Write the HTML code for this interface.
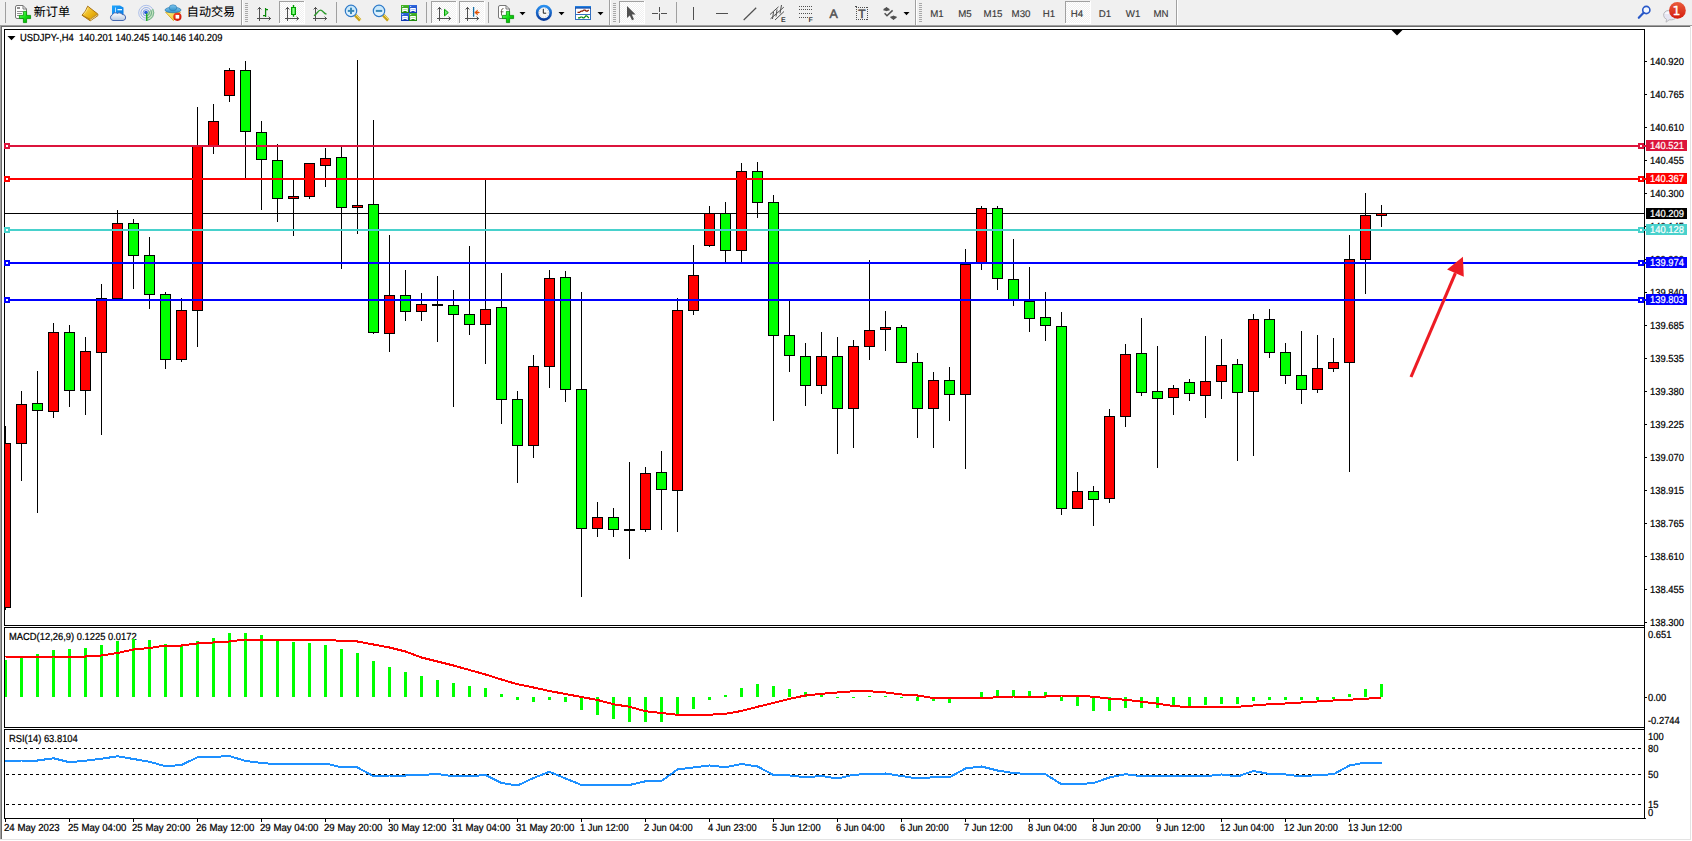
<!DOCTYPE html>
<html><head><meta charset="utf-8"><title>USDJPY-,H4</title>
<style>
html,body{margin:0;padding:0;background:#fff;overflow:hidden}
svg{display:block;position:absolute;left:0;top:0}
svg text{font-family:"Liberation Sans", sans-serif;}
</style></head><body>
<svg width="1692" height="841" viewBox="0 0 1692 841" text-rendering="geometricPrecision">
<g shape-rendering="crispEdges">
<rect x="0" y="0" width="1692" height="25" fill="#f0f0f0"/>
<rect x="0" y="25" width="1692" height="1" fill="#a0a0a0"/>
<rect x="0" y="26" width="1690" height="1" fill="#696969"/>
<rect x="0" y="26" width="1" height="813" fill="#a0a0a0"/>
<rect x="1" y="26" width="1" height="813" fill="#696969"/>
<rect x="1690" y="26" width="1" height="814" fill="#e3e3e3"/>
<rect x="0" y="839" width="1691" height="1" fill="#e3e3e3"/>
<rect x="4" y="29" width="1641" height="1" fill="#000"/>
<rect x="4" y="625" width="1641" height="1" fill="#000"/>
<rect x="4" y="29" width="1" height="597" fill="#000"/>
<rect x="4" y="627" width="1641" height="1" fill="#000"/>
<rect x="4" y="727" width="1641" height="1" fill="#000"/>
<rect x="4" y="627" width="1" height="101" fill="#000"/>
<rect x="4" y="729" width="1641" height="1" fill="#000"/>
<rect x="4" y="818" width="1641" height="1" fill="#000"/>
<rect x="4" y="729" width="1" height="90" fill="#000"/>
<rect x="1644" y="29" width="1" height="790" fill="#000"/>
<rect x="5" y="213" width="1639" height="1" fill="#000"/>
<g id="candles">
<rect x="5" y="426" width="1" height="184" fill="#000"/>
<rect x="5" y="443" width="6" height="165" fill="#000"/>
<rect x="5" y="444" width="5" height="163" fill="#ff0000"/>
<rect x="21" y="391" width="1" height="90" fill="#000"/>
<rect x="16" y="404" width="11" height="40" fill="#000"/>
<rect x="17" y="405" width="9" height="38" fill="#ff0000"/>
<rect x="37" y="371" width="1" height="142" fill="#000"/>
<rect x="32" y="403" width="11" height="8" fill="#000"/>
<rect x="33" y="404" width="9" height="6" fill="#00ff00"/>
<rect x="53" y="323" width="1" height="95" fill="#000"/>
<rect x="48" y="332" width="11" height="80" fill="#000"/>
<rect x="49" y="333" width="9" height="78" fill="#ff0000"/>
<rect x="69" y="325" width="1" height="82" fill="#000"/>
<rect x="64" y="332" width="11" height="59" fill="#000"/>
<rect x="65" y="333" width="9" height="57" fill="#00ff00"/>
<rect x="85" y="337" width="1" height="78" fill="#000"/>
<rect x="80" y="351" width="11" height="40" fill="#000"/>
<rect x="81" y="352" width="9" height="38" fill="#ff0000"/>
<rect x="101" y="284" width="1" height="151" fill="#000"/>
<rect x="96" y="298" width="11" height="55" fill="#000"/>
<rect x="97" y="299" width="9" height="53" fill="#ff0000"/>
<rect x="117" y="210" width="1" height="89" fill="#000"/>
<rect x="112" y="223" width="11" height="76" fill="#000"/>
<rect x="113" y="224" width="9" height="74" fill="#ff0000"/>
<rect x="133" y="219" width="1" height="70" fill="#000"/>
<rect x="128" y="223" width="11" height="33" fill="#000"/>
<rect x="129" y="224" width="9" height="31" fill="#00ff00"/>
<rect x="149" y="237" width="1" height="72" fill="#000"/>
<rect x="144" y="255" width="11" height="40" fill="#000"/>
<rect x="145" y="256" width="9" height="38" fill="#00ff00"/>
<rect x="165" y="292" width="1" height="77" fill="#000"/>
<rect x="160" y="294" width="11" height="66" fill="#000"/>
<rect x="161" y="295" width="9" height="64" fill="#00ff00"/>
<rect x="181" y="298" width="1" height="64" fill="#000"/>
<rect x="176" y="310" width="11" height="50" fill="#000"/>
<rect x="177" y="311" width="9" height="48" fill="#ff0000"/>
<rect x="197" y="107" width="1" height="240" fill="#000"/>
<rect x="192" y="145" width="11" height="166" fill="#000"/>
<rect x="193" y="146" width="9" height="164" fill="#ff0000"/>
<rect x="213" y="104" width="1" height="50" fill="#000"/>
<rect x="208" y="121" width="11" height="25" fill="#000"/>
<rect x="209" y="122" width="9" height="23" fill="#ff0000"/>
<rect x="229" y="68" width="1" height="34" fill="#000"/>
<rect x="224" y="70" width="11" height="26" fill="#000"/>
<rect x="225" y="71" width="9" height="24" fill="#ff0000"/>
<rect x="245" y="61" width="1" height="117" fill="#000"/>
<rect x="240" y="70" width="11" height="62" fill="#000"/>
<rect x="241" y="71" width="9" height="60" fill="#00ff00"/>
<rect x="261" y="121" width="1" height="89" fill="#000"/>
<rect x="256" y="132" width="11" height="28" fill="#000"/>
<rect x="257" y="133" width="9" height="26" fill="#00ff00"/>
<rect x="277" y="144" width="1" height="78" fill="#000"/>
<rect x="272" y="160" width="11" height="39" fill="#000"/>
<rect x="273" y="161" width="9" height="37" fill="#00ff00"/>
<rect x="293" y="179" width="1" height="57" fill="#000"/>
<rect x="288" y="196" width="11" height="3" fill="#000"/>
<rect x="289" y="197" width="9" height="1" fill="#ff0000"/>
<rect x="309" y="163" width="1" height="36" fill="#000"/>
<rect x="304" y="163" width="11" height="34" fill="#000"/>
<rect x="305" y="164" width="9" height="32" fill="#ff0000"/>
<rect x="325" y="148" width="1" height="39" fill="#000"/>
<rect x="320" y="158" width="11" height="8" fill="#000"/>
<rect x="321" y="159" width="9" height="6" fill="#ff0000"/>
<rect x="341" y="147" width="1" height="122" fill="#000"/>
<rect x="336" y="157" width="11" height="51" fill="#000"/>
<rect x="337" y="158" width="9" height="49" fill="#00ff00"/>
<rect x="357" y="60" width="1" height="174" fill="#000"/>
<rect x="352" y="205" width="11" height="3" fill="#000"/>
<rect x="353" y="206" width="9" height="1" fill="#ff0000"/>
<rect x="373" y="120" width="1" height="214" fill="#000"/>
<rect x="368" y="204" width="11" height="129" fill="#000"/>
<rect x="369" y="205" width="9" height="127" fill="#00ff00"/>
<rect x="389" y="235" width="1" height="117" fill="#000"/>
<rect x="384" y="295" width="11" height="39" fill="#000"/>
<rect x="385" y="296" width="9" height="37" fill="#ff0000"/>
<rect x="405" y="270" width="1" height="51" fill="#000"/>
<rect x="400" y="295" width="11" height="17" fill="#000"/>
<rect x="401" y="296" width="9" height="15" fill="#00ff00"/>
<rect x="421" y="293" width="1" height="28" fill="#000"/>
<rect x="416" y="304" width="11" height="8" fill="#000"/>
<rect x="417" y="305" width="9" height="6" fill="#ff0000"/>
<rect x="437" y="276" width="1" height="66" fill="#000"/>
<rect x="432" y="304" width="11" height="2" fill="#000"/>
<rect x="453" y="290" width="1" height="117" fill="#000"/>
<rect x="448" y="305" width="11" height="10" fill="#000"/>
<rect x="449" y="306" width="9" height="8" fill="#00ff00"/>
<rect x="469" y="246" width="1" height="89" fill="#000"/>
<rect x="464" y="314" width="11" height="11" fill="#000"/>
<rect x="465" y="315" width="9" height="9" fill="#00ff00"/>
<rect x="485" y="179" width="1" height="185" fill="#000"/>
<rect x="480" y="309" width="11" height="16" fill="#000"/>
<rect x="481" y="310" width="9" height="14" fill="#ff0000"/>
<rect x="501" y="273" width="1" height="151" fill="#000"/>
<rect x="496" y="307" width="11" height="93" fill="#000"/>
<rect x="497" y="308" width="9" height="91" fill="#00ff00"/>
<rect x="517" y="391" width="1" height="92" fill="#000"/>
<rect x="512" y="399" width="11" height="47" fill="#000"/>
<rect x="513" y="400" width="9" height="45" fill="#00ff00"/>
<rect x="533" y="355" width="1" height="103" fill="#000"/>
<rect x="528" y="366" width="11" height="80" fill="#000"/>
<rect x="529" y="367" width="9" height="78" fill="#ff0000"/>
<rect x="549" y="270" width="1" height="118" fill="#000"/>
<rect x="544" y="278" width="11" height="89" fill="#000"/>
<rect x="545" y="279" width="9" height="87" fill="#ff0000"/>
<rect x="565" y="271" width="1" height="131" fill="#000"/>
<rect x="560" y="277" width="11" height="113" fill="#000"/>
<rect x="561" y="278" width="9" height="111" fill="#00ff00"/>
<rect x="581" y="292" width="1" height="305" fill="#000"/>
<rect x="576" y="389" width="11" height="140" fill="#000"/>
<rect x="577" y="390" width="9" height="138" fill="#00ff00"/>
<rect x="597" y="502" width="1" height="35" fill="#000"/>
<rect x="592" y="517" width="11" height="12" fill="#000"/>
<rect x="593" y="518" width="9" height="10" fill="#ff0000"/>
<rect x="613" y="508" width="1" height="29" fill="#000"/>
<rect x="608" y="517" width="11" height="13" fill="#000"/>
<rect x="609" y="518" width="9" height="11" fill="#00ff00"/>
<rect x="629" y="462" width="1" height="97" fill="#000"/>
<rect x="624" y="529" width="11" height="2" fill="#000"/>
<rect x="645" y="467" width="1" height="65" fill="#000"/>
<rect x="640" y="473" width="11" height="57" fill="#000"/>
<rect x="641" y="474" width="9" height="55" fill="#ff0000"/>
<rect x="661" y="451" width="1" height="79" fill="#000"/>
<rect x="656" y="472" width="11" height="18" fill="#000"/>
<rect x="657" y="473" width="9" height="16" fill="#00ff00"/>
<rect x="677" y="298" width="1" height="234" fill="#000"/>
<rect x="672" y="310" width="11" height="181" fill="#000"/>
<rect x="673" y="311" width="9" height="179" fill="#ff0000"/>
<rect x="693" y="245" width="1" height="70" fill="#000"/>
<rect x="688" y="275" width="11" height="36" fill="#000"/>
<rect x="689" y="276" width="9" height="34" fill="#ff0000"/>
<rect x="709" y="206" width="1" height="41" fill="#000"/>
<rect x="704" y="213" width="11" height="33" fill="#000"/>
<rect x="705" y="214" width="9" height="31" fill="#ff0000"/>
<rect x="725" y="202" width="1" height="60" fill="#000"/>
<rect x="720" y="213" width="11" height="38" fill="#000"/>
<rect x="721" y="214" width="9" height="36" fill="#00ff00"/>
<rect x="741" y="163" width="1" height="99" fill="#000"/>
<rect x="736" y="171" width="11" height="80" fill="#000"/>
<rect x="737" y="172" width="9" height="78" fill="#ff0000"/>
<rect x="757" y="162" width="1" height="56" fill="#000"/>
<rect x="752" y="171" width="11" height="32" fill="#000"/>
<rect x="753" y="172" width="9" height="30" fill="#00ff00"/>
<rect x="773" y="195" width="1" height="226" fill="#000"/>
<rect x="768" y="202" width="11" height="134" fill="#000"/>
<rect x="769" y="203" width="9" height="132" fill="#00ff00"/>
<rect x="789" y="301" width="1" height="71" fill="#000"/>
<rect x="784" y="335" width="11" height="21" fill="#000"/>
<rect x="785" y="336" width="9" height="19" fill="#00ff00"/>
<rect x="805" y="343" width="1" height="63" fill="#000"/>
<rect x="800" y="356" width="11" height="30" fill="#000"/>
<rect x="801" y="357" width="9" height="28" fill="#00ff00"/>
<rect x="821" y="332" width="1" height="62" fill="#000"/>
<rect x="816" y="356" width="11" height="30" fill="#000"/>
<rect x="817" y="357" width="9" height="28" fill="#ff0000"/>
<rect x="837" y="337" width="1" height="117" fill="#000"/>
<rect x="832" y="356" width="11" height="53" fill="#000"/>
<rect x="833" y="357" width="9" height="51" fill="#00ff00"/>
<rect x="853" y="340" width="1" height="108" fill="#000"/>
<rect x="848" y="346" width="11" height="63" fill="#000"/>
<rect x="849" y="347" width="9" height="61" fill="#ff0000"/>
<rect x="869" y="260" width="1" height="100" fill="#000"/>
<rect x="864" y="330" width="11" height="17" fill="#000"/>
<rect x="865" y="331" width="9" height="15" fill="#ff0000"/>
<rect x="885" y="311" width="1" height="40" fill="#000"/>
<rect x="880" y="327" width="11" height="3" fill="#000"/>
<rect x="881" y="328" width="9" height="1" fill="#ff0000"/>
<rect x="901" y="325" width="1" height="38" fill="#000"/>
<rect x="896" y="327" width="11" height="36" fill="#000"/>
<rect x="897" y="328" width="9" height="34" fill="#00ff00"/>
<rect x="917" y="353" width="1" height="85" fill="#000"/>
<rect x="912" y="362" width="11" height="47" fill="#000"/>
<rect x="913" y="363" width="9" height="45" fill="#00ff00"/>
<rect x="933" y="372" width="1" height="76" fill="#000"/>
<rect x="928" y="380" width="11" height="29" fill="#000"/>
<rect x="929" y="381" width="9" height="27" fill="#ff0000"/>
<rect x="949" y="367" width="1" height="54" fill="#000"/>
<rect x="944" y="380" width="11" height="15" fill="#000"/>
<rect x="945" y="381" width="9" height="13" fill="#00ff00"/>
<rect x="965" y="249" width="1" height="220" fill="#000"/>
<rect x="960" y="264" width="11" height="131" fill="#000"/>
<rect x="961" y="265" width="9" height="129" fill="#ff0000"/>
<rect x="981" y="206" width="1" height="64" fill="#000"/>
<rect x="976" y="208" width="11" height="55" fill="#000"/>
<rect x="977" y="209" width="9" height="53" fill="#ff0000"/>
<rect x="997" y="206" width="1" height="84" fill="#000"/>
<rect x="992" y="208" width="11" height="71" fill="#000"/>
<rect x="993" y="209" width="9" height="69" fill="#00ff00"/>
<rect x="1013" y="239" width="1" height="67" fill="#000"/>
<rect x="1008" y="279" width="11" height="21" fill="#000"/>
<rect x="1009" y="280" width="9" height="19" fill="#00ff00"/>
<rect x="1029" y="267" width="1" height="65" fill="#000"/>
<rect x="1024" y="301" width="11" height="18" fill="#000"/>
<rect x="1025" y="302" width="9" height="16" fill="#00ff00"/>
<rect x="1045" y="292" width="1" height="49" fill="#000"/>
<rect x="1040" y="317" width="11" height="9" fill="#000"/>
<rect x="1041" y="318" width="9" height="7" fill="#00ff00"/>
<rect x="1061" y="312" width="1" height="203" fill="#000"/>
<rect x="1056" y="326" width="11" height="183" fill="#000"/>
<rect x="1057" y="327" width="9" height="181" fill="#00ff00"/>
<rect x="1077" y="472" width="1" height="37" fill="#000"/>
<rect x="1072" y="491" width="11" height="18" fill="#000"/>
<rect x="1073" y="492" width="9" height="16" fill="#ff0000"/>
<rect x="1093" y="486" width="1" height="40" fill="#000"/>
<rect x="1088" y="491" width="11" height="9" fill="#000"/>
<rect x="1089" y="492" width="9" height="7" fill="#00ff00"/>
<rect x="1109" y="409" width="1" height="94" fill="#000"/>
<rect x="1104" y="416" width="11" height="83" fill="#000"/>
<rect x="1105" y="417" width="9" height="81" fill="#ff0000"/>
<rect x="1125" y="344" width="1" height="83" fill="#000"/>
<rect x="1120" y="354" width="11" height="63" fill="#000"/>
<rect x="1121" y="355" width="9" height="61" fill="#ff0000"/>
<rect x="1141" y="318" width="1" height="78" fill="#000"/>
<rect x="1136" y="353" width="11" height="40" fill="#000"/>
<rect x="1137" y="354" width="9" height="38" fill="#00ff00"/>
<rect x="1157" y="346" width="1" height="122" fill="#000"/>
<rect x="1152" y="391" width="11" height="8" fill="#000"/>
<rect x="1153" y="392" width="9" height="6" fill="#00ff00"/>
<rect x="1173" y="385" width="1" height="30" fill="#000"/>
<rect x="1168" y="388" width="11" height="10" fill="#000"/>
<rect x="1169" y="389" width="9" height="8" fill="#ff0000"/>
<rect x="1189" y="379" width="1" height="22" fill="#000"/>
<rect x="1184" y="382" width="11" height="12" fill="#000"/>
<rect x="1185" y="383" width="9" height="10" fill="#00ff00"/>
<rect x="1205" y="336" width="1" height="82" fill="#000"/>
<rect x="1200" y="381" width="11" height="15" fill="#000"/>
<rect x="1201" y="382" width="9" height="13" fill="#ff0000"/>
<rect x="1221" y="339" width="1" height="60" fill="#000"/>
<rect x="1216" y="365" width="11" height="17" fill="#000"/>
<rect x="1217" y="366" width="9" height="15" fill="#ff0000"/>
<rect x="1237" y="359" width="1" height="102" fill="#000"/>
<rect x="1232" y="364" width="11" height="29" fill="#000"/>
<rect x="1233" y="365" width="9" height="27" fill="#00ff00"/>
<rect x="1253" y="314" width="1" height="142" fill="#000"/>
<rect x="1248" y="319" width="11" height="73" fill="#000"/>
<rect x="1249" y="320" width="9" height="71" fill="#ff0000"/>
<rect x="1269" y="309" width="1" height="49" fill="#000"/>
<rect x="1264" y="319" width="11" height="34" fill="#000"/>
<rect x="1265" y="320" width="9" height="32" fill="#00ff00"/>
<rect x="1285" y="343" width="1" height="41" fill="#000"/>
<rect x="1280" y="352" width="11" height="24" fill="#000"/>
<rect x="1281" y="353" width="9" height="22" fill="#00ff00"/>
<rect x="1301" y="331" width="1" height="73" fill="#000"/>
<rect x="1296" y="375" width="11" height="15" fill="#000"/>
<rect x="1297" y="376" width="9" height="13" fill="#00ff00"/>
<rect x="1317" y="335" width="1" height="58" fill="#000"/>
<rect x="1312" y="368" width="11" height="22" fill="#000"/>
<rect x="1313" y="369" width="9" height="20" fill="#ff0000"/>
<rect x="1333" y="338" width="1" height="34" fill="#000"/>
<rect x="1328" y="362" width="11" height="7" fill="#000"/>
<rect x="1329" y="363" width="9" height="5" fill="#ff0000"/>
<rect x="1349" y="235" width="1" height="237" fill="#000"/>
<rect x="1344" y="259" width="11" height="104" fill="#000"/>
<rect x="1345" y="260" width="9" height="102" fill="#ff0000"/>
<rect x="1365" y="193" width="1" height="101" fill="#000"/>
<rect x="1360" y="215" width="11" height="45" fill="#000"/>
<rect x="1361" y="216" width="9" height="43" fill="#ff0000"/>
<rect x="1381" y="205" width="1" height="22" fill="#000"/>
<rect x="1376" y="213" width="11" height="3" fill="#000"/>
<rect x="1377" y="214" width="9" height="1" fill="#ff0000"/>
</g>
<rect x="4" y="145" width="1642" height="2" fill="#dc143c"/>
<rect x="4" y="143" width="6" height="6" fill="#dc143c"/>
<rect x="6" y="145" width="2" height="2" fill="#fff"/>
<rect x="1638" y="143" width="6" height="6" fill="#dc143c"/>
<rect x="1640" y="145" width="2" height="2" fill="#fff"/>
<rect x="4" y="178" width="1642" height="2" fill="#ff0000"/>
<rect x="4" y="176" width="6" height="6" fill="#ff0000"/>
<rect x="6" y="178" width="2" height="2" fill="#fff"/>
<rect x="1638" y="176" width="6" height="6" fill="#ff0000"/>
<rect x="1640" y="178" width="2" height="2" fill="#fff"/>
<rect x="4" y="229" width="1642" height="2" fill="#48d1cc"/>
<rect x="4" y="227" width="6" height="6" fill="#48d1cc"/>
<rect x="6" y="229" width="2" height="2" fill="#fff"/>
<rect x="1638" y="227" width="6" height="6" fill="#48d1cc"/>
<rect x="1640" y="229" width="2" height="2" fill="#fff"/>
<rect x="4" y="262" width="1642" height="2" fill="#0000ff"/>
<rect x="4" y="260" width="6" height="6" fill="#0000ff"/>
<rect x="6" y="262" width="2" height="2" fill="#fff"/>
<rect x="1638" y="260" width="6" height="6" fill="#0000ff"/>
<rect x="1640" y="262" width="2" height="2" fill="#fff"/>
<rect x="4" y="299" width="1642" height="2" fill="#0000ff"/>
<rect x="4" y="297" width="6" height="6" fill="#0000ff"/>
<rect x="6" y="299" width="2" height="2" fill="#fff"/>
<rect x="1638" y="297" width="6" height="6" fill="#0000ff"/>
<rect x="1640" y="299" width="2" height="2" fill="#fff"/>
<g shape-rendering="geometricPrecision"><line x1="1411" y1="377" x2="1455.4" y2="273.2" stroke="#ed1c24" stroke-width="3.1"/><polygon points="1462.9,256.7 1447.1,269.5 1463.8,276.7" fill="#ed1c24"/></g>
<polygon points="1391.5,30 1402.5,30 1397,35.5" fill="#000" shape-rendering="geometricPrecision"/>
<rect x="1645" y="61" width="2" height="1" fill="#000"/>
<text transform="translate(1650,65) scale(0.92,1)" fill="#000" stroke="#000" stroke-width="0.22" font-size="10.2" text-anchor="start">140.920</text>
<rect x="1645" y="94" width="2" height="1" fill="#000"/>
<text transform="translate(1650,98) scale(0.92,1)" fill="#000" stroke="#000" stroke-width="0.22" font-size="10.2" text-anchor="start">140.765</text>
<rect x="1645" y="127" width="2" height="1" fill="#000"/>
<text transform="translate(1650,131) scale(0.92,1)" fill="#000" stroke="#000" stroke-width="0.22" font-size="10.2" text-anchor="start">140.610</text>
<rect x="1645" y="160" width="2" height="1" fill="#000"/>
<text transform="translate(1650,164) scale(0.92,1)" fill="#000" stroke="#000" stroke-width="0.22" font-size="10.2" text-anchor="start">140.455</text>
<rect x="1645" y="193" width="2" height="1" fill="#000"/>
<text transform="translate(1650,197) scale(0.92,1)" fill="#000" stroke="#000" stroke-width="0.22" font-size="10.2" text-anchor="start">140.300</text>
<rect x="1645" y="226" width="2" height="1" fill="#000"/>
<text transform="translate(1650,230) scale(0.92,1)" fill="#000" stroke="#000" stroke-width="0.22" font-size="10.2" text-anchor="start">140.145</text>
<rect x="1645" y="259" width="2" height="1" fill="#000"/>
<text transform="translate(1650,263) scale(0.92,1)" fill="#000" stroke="#000" stroke-width="0.22" font-size="10.2" text-anchor="start">139.990</text>
<rect x="1645" y="292" width="2" height="1" fill="#000"/>
<text transform="translate(1650,296) scale(0.92,1)" fill="#000" stroke="#000" stroke-width="0.22" font-size="10.2" text-anchor="start">139.840</text>
<rect x="1645" y="325" width="2" height="1" fill="#000"/>
<text transform="translate(1650,329) scale(0.92,1)" fill="#000" stroke="#000" stroke-width="0.22" font-size="10.2" text-anchor="start">139.685</text>
<rect x="1645" y="358" width="2" height="1" fill="#000"/>
<text transform="translate(1650,362) scale(0.92,1)" fill="#000" stroke="#000" stroke-width="0.22" font-size="10.2" text-anchor="start">139.535</text>
<rect x="1645" y="391" width="2" height="1" fill="#000"/>
<text transform="translate(1650,395) scale(0.92,1)" fill="#000" stroke="#000" stroke-width="0.22" font-size="10.2" text-anchor="start">139.380</text>
<rect x="1645" y="424" width="2" height="1" fill="#000"/>
<text transform="translate(1650,428) scale(0.92,1)" fill="#000" stroke="#000" stroke-width="0.22" font-size="10.2" text-anchor="start">139.225</text>
<rect x="1645" y="457" width="2" height="1" fill="#000"/>
<text transform="translate(1650,461) scale(0.92,1)" fill="#000" stroke="#000" stroke-width="0.22" font-size="10.2" text-anchor="start">139.070</text>
<rect x="1645" y="490" width="2" height="1" fill="#000"/>
<text transform="translate(1650,494) scale(0.92,1)" fill="#000" stroke="#000" stroke-width="0.22" font-size="10.2" text-anchor="start">138.915</text>
<rect x="1645" y="523" width="2" height="1" fill="#000"/>
<text transform="translate(1650,527) scale(0.92,1)" fill="#000" stroke="#000" stroke-width="0.22" font-size="10.2" text-anchor="start">138.765</text>
<rect x="1645" y="556" width="2" height="1" fill="#000"/>
<text transform="translate(1650,560) scale(0.92,1)" fill="#000" stroke="#000" stroke-width="0.22" font-size="10.2" text-anchor="start">138.610</text>
<rect x="1645" y="589" width="2" height="1" fill="#000"/>
<text transform="translate(1650,593) scale(0.92,1)" fill="#000" stroke="#000" stroke-width="0.22" font-size="10.2" text-anchor="start">138.455</text>
<rect x="1645" y="622" width="2" height="1" fill="#000"/>
<text transform="translate(1650,626) scale(0.92,1)" fill="#000" stroke="#000" stroke-width="0.22" font-size="10.2" text-anchor="start">138.300</text>
<rect x="1646" y="140" width="41" height="11" fill="#dc143c"/>
<text transform="translate(1650,149) scale(0.92,1)" fill="#fff" stroke="#fff" stroke-width="0.22" font-size="10.2" text-anchor="start">140.521</text>
<rect x="1646" y="173" width="41" height="11" fill="#ff0000"/>
<text transform="translate(1650,182) scale(0.92,1)" fill="#fff" stroke="#fff" stroke-width="0.22" font-size="10.2" text-anchor="start">140.367</text>
<rect x="1646" y="224" width="41" height="11" fill="#48d1cc"/>
<text transform="translate(1650,233) scale(0.92,1)" fill="#fff" stroke="#fff" stroke-width="0.22" font-size="10.2" text-anchor="start">140.128</text>
<rect x="1646" y="257" width="41" height="11" fill="#0000ff"/>
<text transform="translate(1650,266) scale(0.92,1)" fill="#fff" stroke="#fff" stroke-width="0.22" font-size="10.2" text-anchor="start">139.974</text>
<rect x="1646" y="294" width="41" height="11" fill="#0000ff"/>
<text transform="translate(1650,303) scale(0.92,1)" fill="#fff" stroke="#fff" stroke-width="0.22" font-size="10.2" text-anchor="start">139.803</text>
<rect x="1646" y="208" width="41" height="11" fill="#000"/>
<text transform="translate(1650,217) scale(0.92,1)" fill="#fff" stroke="#fff" stroke-width="0.22" font-size="10.2" text-anchor="start">140.209</text>
<polygon points="7.5,36 15.5,36 11.5,40.3" fill="#000" shape-rendering="geometricPrecision"/>
<text transform="translate(20,41) scale(0.92,1)" fill="#000" stroke="#000" stroke-width="0.22" font-size="10.2" text-anchor="start" xml:space="preserve">USDJPY-,H4&#160; 140.201 140.245 140.146 140.209</text>
<text transform="translate(9,640) scale(0.92,1)" fill="#000" stroke="#000" stroke-width="0.22" font-size="10.2" text-anchor="start">MACD(12,26,9) 0.1225 0.0172</text>
<rect x="5" y="660" width="2" height="37" fill="#00ff00"/>
<rect x="20" y="657" width="3" height="40" fill="#00ff00"/>
<rect x="36" y="654" width="3" height="43" fill="#00ff00"/>
<rect x="52" y="650" width="3" height="47" fill="#00ff00"/>
<rect x="68" y="649" width="3" height="48" fill="#00ff00"/>
<rect x="84" y="648" width="3" height="49" fill="#00ff00"/>
<rect x="100" y="645" width="3" height="52" fill="#00ff00"/>
<rect x="116" y="641" width="3" height="56" fill="#00ff00"/>
<rect x="132" y="639" width="3" height="58" fill="#00ff00"/>
<rect x="148" y="640" width="3" height="57" fill="#00ff00"/>
<rect x="164" y="644" width="3" height="53" fill="#00ff00"/>
<rect x="180" y="646" width="3" height="51" fill="#00ff00"/>
<rect x="196" y="641" width="3" height="56" fill="#00ff00"/>
<rect x="212" y="638" width="3" height="59" fill="#00ff00"/>
<rect x="228" y="633" width="3" height="64" fill="#00ff00"/>
<rect x="244" y="633" width="3" height="64" fill="#00ff00"/>
<rect x="260" y="635" width="3" height="62" fill="#00ff00"/>
<rect x="276" y="640" width="3" height="57" fill="#00ff00"/>
<rect x="292" y="642" width="3" height="55" fill="#00ff00"/>
<rect x="308" y="643" width="3" height="54" fill="#00ff00"/>
<rect x="324" y="645" width="3" height="52" fill="#00ff00"/>
<rect x="340" y="649" width="3" height="48" fill="#00ff00"/>
<rect x="356" y="653" width="3" height="44" fill="#00ff00"/>
<rect x="372" y="661" width="3" height="36" fill="#00ff00"/>
<rect x="388" y="667" width="3" height="30" fill="#00ff00"/>
<rect x="404" y="672" width="3" height="25" fill="#00ff00"/>
<rect x="420" y="676" width="3" height="21" fill="#00ff00"/>
<rect x="436" y="680" width="3" height="17" fill="#00ff00"/>
<rect x="452" y="683" width="3" height="14" fill="#00ff00"/>
<rect x="468" y="686" width="3" height="11" fill="#00ff00"/>
<rect x="484" y="688" width="3" height="9" fill="#00ff00"/>
<rect x="500" y="694" width="3" height="3" fill="#00ff00"/>
<rect x="516" y="697" width="3" height="3" fill="#00ff00"/>
<rect x="532" y="697" width="3" height="5" fill="#00ff00"/>
<rect x="548" y="697" width="3" height="3" fill="#00ff00"/>
<rect x="564" y="697" width="3" height="5" fill="#00ff00"/>
<rect x="580" y="697" width="3" height="13" fill="#00ff00"/>
<rect x="596" y="697" width="3" height="18" fill="#00ff00"/>
<rect x="612" y="697" width="3" height="22" fill="#00ff00"/>
<rect x="628" y="697" width="3" height="25" fill="#00ff00"/>
<rect x="644" y="697" width="3" height="25" fill="#00ff00"/>
<rect x="660" y="697" width="3" height="25" fill="#00ff00"/>
<rect x="676" y="697" width="3" height="18" fill="#00ff00"/>
<rect x="692" y="697" width="3" height="12" fill="#00ff00"/>
<rect x="708" y="697" width="3" height="3" fill="#00ff00"/>
<rect x="724" y="695" width="3" height="2" fill="#00ff00"/>
<rect x="740" y="688" width="3" height="9" fill="#00ff00"/>
<rect x="756" y="684" width="3" height="13" fill="#00ff00"/>
<rect x="772" y="686" width="3" height="11" fill="#00ff00"/>
<rect x="788" y="689" width="3" height="8" fill="#00ff00"/>
<rect x="804" y="692" width="3" height="5" fill="#00ff00"/>
<rect x="820" y="694" width="3" height="3" fill="#00ff00"/>
<rect x="836" y="697" width="3" height="1" fill="#00ff00"/>
<rect x="852" y="697" width="3" height="1" fill="#00ff00"/>
<rect x="868" y="696" width="3" height="1" fill="#00ff00"/>
<rect x="884" y="696" width="3" height="1" fill="#00ff00"/>
<rect x="900" y="697" width="3" height="1" fill="#00ff00"/>
<rect x="916" y="697" width="3" height="4" fill="#00ff00"/>
<rect x="932" y="697" width="3" height="4" fill="#00ff00"/>
<rect x="948" y="697" width="3" height="6" fill="#00ff00"/>
<rect x="964" y="697" width="3" height="1" fill="#00ff00"/>
<rect x="980" y="692" width="3" height="5" fill="#00ff00"/>
<rect x="996" y="690" width="3" height="7" fill="#00ff00"/>
<rect x="1012" y="690" width="3" height="7" fill="#00ff00"/>
<rect x="1028" y="691" width="3" height="6" fill="#00ff00"/>
<rect x="1044" y="692" width="3" height="5" fill="#00ff00"/>
<rect x="1060" y="697" width="3" height="4" fill="#00ff00"/>
<rect x="1076" y="697" width="3" height="9" fill="#00ff00"/>
<rect x="1092" y="697" width="3" height="14" fill="#00ff00"/>
<rect x="1108" y="697" width="3" height="14" fill="#00ff00"/>
<rect x="1124" y="697" width="3" height="11" fill="#00ff00"/>
<rect x="1140" y="697" width="3" height="11" fill="#00ff00"/>
<rect x="1156" y="697" width="3" height="11" fill="#00ff00"/>
<rect x="1172" y="697" width="3" height="10" fill="#00ff00"/>
<rect x="1188" y="697" width="3" height="9" fill="#00ff00"/>
<rect x="1204" y="697" width="3" height="8" fill="#00ff00"/>
<rect x="1220" y="697" width="3" height="7" fill="#00ff00"/>
<rect x="1236" y="697" width="3" height="7" fill="#00ff00"/>
<rect x="1252" y="697" width="3" height="4" fill="#00ff00"/>
<rect x="1268" y="697" width="3" height="3" fill="#00ff00"/>
<rect x="1284" y="697" width="3" height="3" fill="#00ff00"/>
<rect x="1300" y="697" width="3" height="3" fill="#00ff00"/>
<rect x="1316" y="697" width="3" height="3" fill="#00ff00"/>
<rect x="1332" y="697" width="3" height="2" fill="#00ff00"/>
<rect x="1348" y="694" width="3" height="3" fill="#00ff00"/>
<rect x="1364" y="689" width="3" height="8" fill="#00ff00"/>
<rect x="1380" y="684" width="3" height="13" fill="#00ff00"/>
<polyline points="5.5,656.5 21.5,657.0 37.5,657.0 53.5,656.5 69.5,656.5 85.5,656.5 101.5,655.5 117.5,653.0 133.5,649.5 149.5,648.0 165.5,645.5 181.5,645.5 197.5,643.5 213.5,642.5 229.5,641.5 245.5,639.5 261.5,639.5 277.5,639.5 293.5,639.5 309.5,639.5 325.5,639.5 341.5,641.0 357.5,641.5 373.5,644.5 389.5,647.5 405.5,651.5 421.5,657.5 437.5,661.5 453.5,665.5 469.5,670.0 485.5,674.5 501.5,679.5 517.5,684.25 533.5,687.5 549.5,691.0 565.5,694.0 581.5,697.0 597.5,700.0 613.5,704.25 629.5,706.75 645.5,711.25 661.5,713.0 677.5,714.75 693.5,715.0 709.5,714.75 725.5,713.75 741.5,711.0 757.5,706.75 773.5,703.0 789.5,698.75 805.5,695.5 821.5,693.75 837.5,692.5 853.5,691.25 869.5,691.25 885.5,692.5 901.5,694.5 917.5,695.5 933.5,698.0 949.5,698.25 965.5,698.25 981.5,698.25 997.5,697.25 1013.5,696.5 1029.5,696.5 1045.5,696.5 1061.5,695.5 1077.5,695.75 1093.5,696.75 1109.5,698.75 1125.5,699.75 1141.5,701.75 1157.5,703.75 1173.5,706.0 1189.5,707.25 1205.5,707.25 1221.5,707.25 1237.5,706.75 1253.5,705.5 1269.5,704.25 1285.5,703.5 1301.5,702.5 1317.5,701.5 1333.5,700.5 1349.5,699.75 1365.5,698.75 1381.5,697.5" fill="none" stroke="#ff0000" stroke-width="2" stroke-linejoin="round"/>
<text transform="translate(1648,638) scale(0.92,1)" fill="#000" stroke="#000" stroke-width="0.22" font-size="10.2" text-anchor="start">0.651</text>
<text transform="translate(1648,701) scale(0.92,1)" fill="#000" stroke="#000" stroke-width="0.22" font-size="10.2" text-anchor="start">0.00</text>
<text transform="translate(1648,724) scale(0.92,1)" fill="#000" stroke="#000" stroke-width="0.22" font-size="10.2" text-anchor="start">-0.2744</text>
<rect x="1645" y="697" width="2" height="1" fill="#000"/>
<text transform="translate(9,742) scale(0.92,1)" fill="#000" stroke="#000" stroke-width="0.22" font-size="10.2" text-anchor="start">RSI(14) 63.8104</text>
<line x1="6" y1="748.5" x2="1644" y2="748.5" stroke="#000" stroke-width="1" stroke-dasharray="3 3"/>
<line x1="6" y1="774.5" x2="1644" y2="774.5" stroke="#000" stroke-width="1" stroke-dasharray="3 3"/>
<line x1="6" y1="804.5" x2="1644" y2="804.5" stroke="#000" stroke-width="1" stroke-dasharray="3 3"/>
<polyline points="5.5,761.25 21.5,760.5 37.5,760.5 53.5,758.25 69.5,762.25 85.5,760.75 101.5,758.75 117.5,756.25 133.5,759.0 149.5,761.75 165.5,766.25 181.5,765.0 197.5,757.25 213.5,757.0 229.5,756.0 245.5,761.0 261.5,763.0 277.5,764.25 293.5,764.25 309.5,763.75 325.5,763.5 341.5,767.25 357.5,767.5 373.5,776.25 389.5,775.5 405.5,775.5 421.5,775.0 437.5,774.0 453.5,776.25 469.5,776.25 485.5,775.0 501.5,783.0 517.5,785.5 533.5,778.0 549.5,771.75 565.5,778.5 581.5,785.0 597.5,785.0 613.5,785.0 629.5,785.0 645.5,781.25 661.5,781.0 677.5,769.5 693.5,767.5 709.5,765.5 725.5,767.25 741.5,764.0 757.5,766.5 773.5,775.0 789.5,775.5 805.5,777.25 821.5,776.0 837.5,778.5 853.5,774.75 869.5,774.0 885.5,773.5 901.5,776.0 917.5,778.5 933.5,777.25 949.5,777.25 965.5,768.5 981.5,766.5 997.5,770.5 1013.5,773.0 1029.5,774.25 1045.5,774.25 1061.5,784.25 1077.5,784.25 1093.5,783.0 1109.5,777.5 1125.5,774.25 1141.5,776.25 1157.5,776.25 1173.5,776.25 1189.5,776.25 1205.5,776.25 1221.5,774.5 1237.5,776.5 1253.5,771.0 1269.5,774.0 1285.5,774.5 1301.5,776.5 1317.5,775.0 1333.5,774.25 1349.5,765.5 1365.5,762.5 1381.5,762.5" fill="none" stroke="#1e90ff" stroke-width="2" stroke-linejoin="round"/>
<text transform="translate(1648,740) scale(0.92,1)" fill="#000" stroke="#000" stroke-width="0.22" font-size="10.2" text-anchor="start">100</text>
<text transform="translate(1648,752) scale(0.92,1)" fill="#000" stroke="#000" stroke-width="0.22" font-size="10.2" text-anchor="start">80</text>
<text transform="translate(1648,778) scale(0.92,1)" fill="#000" stroke="#000" stroke-width="0.22" font-size="10.2" text-anchor="start">50</text>
<text transform="translate(1648,808) scale(0.92,1)" fill="#000" stroke="#000" stroke-width="0.22" font-size="10.2" text-anchor="start">15</text>
<text transform="translate(1648,816) scale(0.92,1)" fill="#000" stroke="#000" stroke-width="0.22" font-size="10.2" text-anchor="start">0</text>
<rect x="1645" y="818" width="1" height="1" fill="#000"/>
<rect x="5" y="819" width="1" height="3" fill="#000"/>
<text transform="translate(4,831) scale(0.945,1)" fill="#000" stroke="#000" stroke-width="0.22" font-size="10.2" text-anchor="start">24 May 2023</text>
<rect x="69" y="819" width="1" height="3" fill="#000"/>
<text transform="translate(68,831) scale(0.945,1)" fill="#000" stroke="#000" stroke-width="0.22" font-size="10.2" text-anchor="start">25 May 04:00</text>
<rect x="133" y="819" width="1" height="3" fill="#000"/>
<text transform="translate(132,831) scale(0.945,1)" fill="#000" stroke="#000" stroke-width="0.22" font-size="10.2" text-anchor="start">25 May 20:00</text>
<rect x="197" y="819" width="1" height="3" fill="#000"/>
<text transform="translate(196,831) scale(0.945,1)" fill="#000" stroke="#000" stroke-width="0.22" font-size="10.2" text-anchor="start">26 May 12:00</text>
<rect x="261" y="819" width="1" height="3" fill="#000"/>
<text transform="translate(260,831) scale(0.945,1)" fill="#000" stroke="#000" stroke-width="0.22" font-size="10.2" text-anchor="start">29 May 04:00</text>
<rect x="325" y="819" width="1" height="3" fill="#000"/>
<text transform="translate(324,831) scale(0.945,1)" fill="#000" stroke="#000" stroke-width="0.22" font-size="10.2" text-anchor="start">29 May 20:00</text>
<rect x="389" y="819" width="1" height="3" fill="#000"/>
<text transform="translate(388,831) scale(0.945,1)" fill="#000" stroke="#000" stroke-width="0.22" font-size="10.2" text-anchor="start">30 May 12:00</text>
<rect x="453" y="819" width="1" height="3" fill="#000"/>
<text transform="translate(452,831) scale(0.945,1)" fill="#000" stroke="#000" stroke-width="0.22" font-size="10.2" text-anchor="start">31 May 04:00</text>
<rect x="517" y="819" width="1" height="3" fill="#000"/>
<text transform="translate(516,831) scale(0.945,1)" fill="#000" stroke="#000" stroke-width="0.22" font-size="10.2" text-anchor="start">31 May 20:00</text>
<rect x="581" y="819" width="1" height="3" fill="#000"/>
<text transform="translate(580,831) scale(0.915,1)" fill="#000" stroke="#000" stroke-width="0.22" font-size="10.2" text-anchor="start">1 Jun 12:00</text>
<rect x="645" y="819" width="1" height="3" fill="#000"/>
<text transform="translate(644,831) scale(0.915,1)" fill="#000" stroke="#000" stroke-width="0.22" font-size="10.2" text-anchor="start">2 Jun 04:00</text>
<rect x="709" y="819" width="1" height="3" fill="#000"/>
<text transform="translate(708,831) scale(0.915,1)" fill="#000" stroke="#000" stroke-width="0.22" font-size="10.2" text-anchor="start">4 Jun 23:00</text>
<rect x="773" y="819" width="1" height="3" fill="#000"/>
<text transform="translate(772,831) scale(0.915,1)" fill="#000" stroke="#000" stroke-width="0.22" font-size="10.2" text-anchor="start">5 Jun 12:00</text>
<rect x="837" y="819" width="1" height="3" fill="#000"/>
<text transform="translate(836,831) scale(0.915,1)" fill="#000" stroke="#000" stroke-width="0.22" font-size="10.2" text-anchor="start">6 Jun 04:00</text>
<rect x="901" y="819" width="1" height="3" fill="#000"/>
<text transform="translate(900,831) scale(0.915,1)" fill="#000" stroke="#000" stroke-width="0.22" font-size="10.2" text-anchor="start">6 Jun 20:00</text>
<rect x="965" y="819" width="1" height="3" fill="#000"/>
<text transform="translate(964,831) scale(0.915,1)" fill="#000" stroke="#000" stroke-width="0.22" font-size="10.2" text-anchor="start">7 Jun 12:00</text>
<rect x="1029" y="819" width="1" height="3" fill="#000"/>
<text transform="translate(1028,831) scale(0.915,1)" fill="#000" stroke="#000" stroke-width="0.22" font-size="10.2" text-anchor="start">8 Jun 04:00</text>
<rect x="1093" y="819" width="1" height="3" fill="#000"/>
<text transform="translate(1092,831) scale(0.915,1)" fill="#000" stroke="#000" stroke-width="0.22" font-size="10.2" text-anchor="start">8 Jun 20:00</text>
<rect x="1157" y="819" width="1" height="3" fill="#000"/>
<text transform="translate(1156,831) scale(0.915,1)" fill="#000" stroke="#000" stroke-width="0.22" font-size="10.2" text-anchor="start">9 Jun 12:00</text>
<rect x="1221" y="819" width="1" height="3" fill="#000"/>
<text transform="translate(1220,831) scale(0.915,1)" fill="#000" stroke="#000" stroke-width="0.22" font-size="10.2" text-anchor="start">12 Jun 04:00</text>
<rect x="1285" y="819" width="1" height="3" fill="#000"/>
<text transform="translate(1284,831) scale(0.915,1)" fill="#000" stroke="#000" stroke-width="0.22" font-size="10.2" text-anchor="start">12 Jun 20:00</text>
<rect x="1349" y="819" width="1" height="3" fill="#000"/>
<text transform="translate(1348,831) scale(0.915,1)" fill="#000" stroke="#000" stroke-width="0.22" font-size="10.2" text-anchor="start">13 Jun 12:00</text>
</g>
<defs>
<pattern id="chk" width="2" height="2" patternUnits="userSpaceOnUse"><rect width="2" height="2" fill="#f0f0f0"/><rect width="1" height="1" fill="#fff"/><rect x="1" y="1" width="1" height="1" fill="#fff"/></pattern>
<linearGradient id="gPlus" x1="0" y1="0" x2="1" y2="1"><stop offset="0" stop-color="#7dff7d"/><stop offset="0.5" stop-color="#12e012"/><stop offset="1" stop-color="#009a00"/></linearGradient>
<linearGradient id="gGold" x1="0" y1="0" x2="1" y2="1"><stop offset="0" stop-color="#ffe060"/><stop offset="0.6" stop-color="#e8b010"/><stop offset="1" stop-color="#c08808"/></linearGradient>
<linearGradient id="gBlue" x1="0" y1="0" x2="1" y2="1"><stop offset="0" stop-color="#20a8ff"/><stop offset="1" stop-color="#0878e0"/></linearGradient>
<linearGradient id="gCloud" x1="0" y1="0" x2="0" y2="1"><stop offset="0" stop-color="#ffffff"/><stop offset="1" stop-color="#b8c8e0"/></linearGradient>
<linearGradient id="gHat" x1="0" y1="0" x2="0" y2="1"><stop offset="0" stop-color="#80c8f0"/><stop offset="1" stop-color="#3090c8"/></linearGradient>
<linearGradient id="gYel" x1="0" y1="0" x2="1" y2="1"><stop offset="0" stop-color="#fff080"/><stop offset="1" stop-color="#e8b820"/></linearGradient>
<radialGradient id="gRed" cx="0.4" cy="0.35" r="0.7"><stop offset="0" stop-color="#ff5030"/><stop offset="1" stop-color="#c81000"/></radialGradient>
<linearGradient id="gBadge" x1="0" y1="0" x2="0" y2="1"><stop offset="0" stop-color="#ea5c3c"/><stop offset="1" stop-color="#d41c0c"/></linearGradient>
<linearGradient id="gLens" x1="0" y1="0" x2="0" y2="1"><stop offset="0" stop-color="#c0e4fa"/><stop offset="1" stop-color="#e8f6ff"/></linearGradient>
<linearGradient id="gCandle" x1="0" y1="0" x2="1" y2="0"><stop offset="0" stop-color="#20d020"/><stop offset="0.5" stop-color="#90ff90"/><stop offset="1" stop-color="#20d020"/></linearGradient>
<linearGradient id="gClock" x1="0" y1="0" x2="0" y2="1"><stop offset="0" stop-color="#2a90f0"/><stop offset="1" stop-color="#0a3c9c"/></linearGradient>
<linearGradient id="gGrn" x1="0" y1="0" x2="0" y2="1"><stop offset="0" stop-color="#48b828"/><stop offset="1" stop-color="#208810"/></linearGradient>
<linearGradient id="gBl2" x1="0" y1="0" x2="0" y2="1"><stop offset="0" stop-color="#3068e0"/><stop offset="1" stop-color="#1038b0"/></linearGradient>
</defs>
<rect x="5" y="2" width="1" height="21" fill="#a0a0a0" shape-rendering="crispEdges"/>
<rect x="336" y="2" width="1" height="21" fill="#a0a0a0" shape-rendering="crispEdges"/>
<rect x="426" y="2" width="1" height="21" fill="#a0a0a0" shape-rendering="crispEdges"/>
<rect x="488" y="2" width="1" height="21" fill="#a0a0a0" shape-rendering="crispEdges"/>
<rect x="676" y="2" width="1" height="21" fill="#a0a0a0" shape-rendering="crispEdges"/>
<rect x="241" y="0" width="1" height="25" fill="#a0a0a0" shape-rendering="crispEdges"/>
<rect x="242" y="0" width="1" height="25" fill="#ffffff" shape-rendering="crispEdges"/>
<rect x="609" y="0" width="1" height="25" fill="#a0a0a0" shape-rendering="crispEdges"/>
<rect x="610" y="0" width="1" height="25" fill="#ffffff" shape-rendering="crispEdges"/>
<rect x="915" y="0" width="1" height="25" fill="#a0a0a0" shape-rendering="crispEdges"/>
<rect x="916" y="0" width="1" height="25" fill="#ffffff" shape-rendering="crispEdges"/>
<rect x="1176" y="0" width="1" height="25" fill="#a0a0a0" shape-rendering="crispEdges"/>
<rect x="1177" y="0" width="1" height="25" fill="#ffffff" shape-rendering="crispEdges"/>
<rect x="245" y="3" width="3" height="1" fill="#a8a8a8" shape-rendering="crispEdges"/>
<rect x="245" y="5" width="3" height="1" fill="#a8a8a8" shape-rendering="crispEdges"/>
<rect x="245" y="7" width="3" height="1" fill="#a8a8a8" shape-rendering="crispEdges"/>
<rect x="245" y="9" width="3" height="1" fill="#a8a8a8" shape-rendering="crispEdges"/>
<rect x="245" y="11" width="3" height="1" fill="#a8a8a8" shape-rendering="crispEdges"/>
<rect x="245" y="13" width="3" height="1" fill="#a8a8a8" shape-rendering="crispEdges"/>
<rect x="245" y="15" width="3" height="1" fill="#a8a8a8" shape-rendering="crispEdges"/>
<rect x="245" y="17" width="3" height="1" fill="#a8a8a8" shape-rendering="crispEdges"/>
<rect x="245" y="19" width="3" height="1" fill="#a8a8a8" shape-rendering="crispEdges"/>
<rect x="245" y="21" width="3" height="1" fill="#a8a8a8" shape-rendering="crispEdges"/>
<rect x="613" y="3" width="3" height="1" fill="#a8a8a8" shape-rendering="crispEdges"/>
<rect x="613" y="5" width="3" height="1" fill="#a8a8a8" shape-rendering="crispEdges"/>
<rect x="613" y="7" width="3" height="1" fill="#a8a8a8" shape-rendering="crispEdges"/>
<rect x="613" y="9" width="3" height="1" fill="#a8a8a8" shape-rendering="crispEdges"/>
<rect x="613" y="11" width="3" height="1" fill="#a8a8a8" shape-rendering="crispEdges"/>
<rect x="613" y="13" width="3" height="1" fill="#a8a8a8" shape-rendering="crispEdges"/>
<rect x="613" y="15" width="3" height="1" fill="#a8a8a8" shape-rendering="crispEdges"/>
<rect x="613" y="17" width="3" height="1" fill="#a8a8a8" shape-rendering="crispEdges"/>
<rect x="613" y="19" width="3" height="1" fill="#a8a8a8" shape-rendering="crispEdges"/>
<rect x="613" y="21" width="3" height="1" fill="#a8a8a8" shape-rendering="crispEdges"/>
<rect x="919" y="3" width="3" height="1" fill="#a8a8a8" shape-rendering="crispEdges"/>
<rect x="919" y="5" width="3" height="1" fill="#a8a8a8" shape-rendering="crispEdges"/>
<rect x="919" y="7" width="3" height="1" fill="#a8a8a8" shape-rendering="crispEdges"/>
<rect x="919" y="9" width="3" height="1" fill="#a8a8a8" shape-rendering="crispEdges"/>
<rect x="919" y="11" width="3" height="1" fill="#a8a8a8" shape-rendering="crispEdges"/>
<rect x="919" y="13" width="3" height="1" fill="#a8a8a8" shape-rendering="crispEdges"/>
<rect x="919" y="15" width="3" height="1" fill="#a8a8a8" shape-rendering="crispEdges"/>
<rect x="919" y="17" width="3" height="1" fill="#a8a8a8" shape-rendering="crispEdges"/>
<rect x="919" y="19" width="3" height="1" fill="#a8a8a8" shape-rendering="crispEdges"/>
<rect x="919" y="21" width="3" height="1" fill="#a8a8a8" shape-rendering="crispEdges"/>
<rect x="279" y="1" width="26" height="23" fill="url(#chk)" shape-rendering="crispEdges"/>
<rect x="279" y="1" width="26" height="1" fill="#a0a0a0" shape-rendering="crispEdges"/>
<rect x="279" y="1" width="1" height="23" fill="#a0a0a0" shape-rendering="crispEdges"/>
<rect x="304" y="1" width="1" height="23" fill="#fff" shape-rendering="crispEdges"/>
<rect x="279" y="23" width="26" height="1" fill="#fff" shape-rendering="crispEdges"/>
<rect x="431" y="1" width="26" height="23" fill="url(#chk)" shape-rendering="crispEdges"/>
<rect x="431" y="1" width="26" height="1" fill="#a0a0a0" shape-rendering="crispEdges"/>
<rect x="431" y="1" width="1" height="23" fill="#a0a0a0" shape-rendering="crispEdges"/>
<rect x="456" y="1" width="1" height="23" fill="#fff" shape-rendering="crispEdges"/>
<rect x="431" y="23" width="26" height="1" fill="#fff" shape-rendering="crispEdges"/>
<rect x="459" y="1" width="26" height="23" fill="url(#chk)" shape-rendering="crispEdges"/>
<rect x="459" y="1" width="26" height="1" fill="#a0a0a0" shape-rendering="crispEdges"/>
<rect x="459" y="1" width="1" height="23" fill="#a0a0a0" shape-rendering="crispEdges"/>
<rect x="484" y="1" width="1" height="23" fill="#fff" shape-rendering="crispEdges"/>
<rect x="459" y="23" width="26" height="1" fill="#fff" shape-rendering="crispEdges"/>
<rect x="619" y="1" width="26" height="23" fill="url(#chk)" shape-rendering="crispEdges"/>
<rect x="619" y="1" width="26" height="1" fill="#a0a0a0" shape-rendering="crispEdges"/>
<rect x="619" y="1" width="1" height="23" fill="#a0a0a0" shape-rendering="crispEdges"/>
<rect x="644" y="1" width="1" height="23" fill="#fff" shape-rendering="crispEdges"/>
<rect x="619" y="23" width="26" height="1" fill="#fff" shape-rendering="crispEdges"/>
<rect x="1065" y="1" width="26" height="23" fill="url(#chk)" shape-rendering="crispEdges"/>
<rect x="1065" y="1" width="26" height="1" fill="#a0a0a0" shape-rendering="crispEdges"/>
<rect x="1065" y="1" width="1" height="23" fill="#a0a0a0" shape-rendering="crispEdges"/>
<rect x="1090" y="1" width="1" height="23" fill="#fff" shape-rendering="crispEdges"/>
<rect x="1065" y="23" width="26" height="1" fill="#fff" shape-rendering="crispEdges"/>
<g shape-rendering="geometricPrecision">
<path d="M17.0,5.5 h6 l3.5,3.5 v8 a1.5,1.5 0 0 1 -1.5,1.5 h-8 a1.5,1.5 0 0 1 -1.5,-1.5 v-10 a1.5,1.5 0 0 1 1.5,-1.5 z" fill="#fff" stroke="#787878" stroke-width="1"/>
<path d="M23.0,5.5 v3.5 h3.5" fill="none" stroke="#787878" stroke-width="1"/>
<rect x="17" y="7" width="3" height="2" fill="#909090"/><rect x="17" y="11" width="6" height="1" fill="#909090"/><rect x="17" y="13" width="5" height="1" fill="#909090"/><rect x="17" y="15" width="3" height="1" fill="#909090"/>
<path d="M23.4,11.4 h3.2 v4 h4 v3.2 h-4 v4 h-3.2 v-4 h-4 v-3.2 h4 z" fill="url(#gPlus)" stroke="#009000" stroke-width="0.8" stroke-linejoin="round"/>
<path d="M87.7,6.2 L97.8,14 L97.8,15.7 L90.2,20.8 L82,15.2 Q86.2,11.2 87.7,6.2 Z" fill="url(#gGold)" stroke="#a87010" stroke-width="1" stroke-linejoin="round"/>
<path d="M90.2,19 L97.4,14.2 L97.4,15.6 L90.2,20.4 Z" fill="#f4e4a8"/>
<path d="M82.6,15.4 L90.2,19.3 L97.4,14.4" fill="none" stroke="#a87010" stroke-width="0.7"/>
<path d="M83.4,14.6 Q86.8,11 88.2,7.4" fill="none" stroke="#fff0a0" stroke-width="0.8" opacity="0.9"/>
<path d="M112,5.5 h8 l3.5,2 v7 h-11.5 z" fill="url(#gBlue)"/>
<path d="M115.5,7.5 v7" stroke="#e0f4ff" stroke-width="0.8"/><rect x="117.5" y="9" width="4.5" height="1.3" fill="#e8f8ff"/>
<path d="M113,20.5 a3,3 0 0 1 -0.5,-5.8 a3.2,3.2 0 0 1 5,-1.2 a3,3 0 0 1 4.6,1 a3,3 0 0 1 1,6 z" fill="url(#gCloud)" stroke="#4668b0" stroke-width="1"/>
<circle cx="146.2" cy="12.8" r="7.5" fill="none" stroke="#4a78e0" stroke-width="0.9" opacity="0.45"/>
<circle cx="146.2" cy="12.8" r="5.3" fill="none" stroke="#4a78e0" stroke-width="0.9" opacity="0.6"/>
<circle cx="146.2" cy="12.8" r="3.1" fill="none" stroke="#4a78e0" stroke-width="0.9" opacity="0.8"/>
<path d="M146.2,12.8 L146.2,20.9 A8.1,8.1 0 0 0 153.2,8.8 Z" fill="#a8d8a0" opacity="0.6"/>
<path d="M152.70,9.05 A7.5,7.5 0 0 1 146.2,20.3" fill="none" stroke="#3c9a50" stroke-width="0.9" opacity="0.55"/>
<path d="M150.79,10.15 A5.3,5.3 0 0 1 146.2,18.1" fill="none" stroke="#3c9a50" stroke-width="0.9" opacity="0.6"/>
<path d="M148.88,11.25 A3.1,3.1 0 0 1 146.2,15.9" fill="none" stroke="#3c9a50" stroke-width="0.9" opacity="0.7"/>
<circle cx="146" cy="12.5" r="1.8" fill="#2458d8"/><rect x="146.1" y="13.4" width="1.3" height="7.5" fill="#18a818"/>
<path d="M165.6,12.2 L180.4,12.2 L173.4,20.6 Z" fill="url(#gYel)" stroke="#d0a010" stroke-width="0.8" stroke-linejoin="round"/>
<ellipse cx="173" cy="10" rx="8" ry="2.8" fill="url(#gHat)" stroke="#2878b0" stroke-width="0.7"/>
<ellipse cx="173" cy="7.8" rx="3.8" ry="3" fill="url(#gHat)" stroke="#2878b0" stroke-width="0.6"/>
<circle cx="177.4" cy="16.8" r="4.1" fill="url(#gRed)"/><rect x="175.6" y="15" width="3.6" height="3.6" fill="#fff"/>
</g>
<rect x="259" y="7" width="1" height="14" fill="#505050" shape-rendering="crispEdges"/>
<rect x="257" y="18" width="14" height="1" fill="#505050" shape-rendering="crispEdges"/>
<rect x="258" y="8" width="3" height="1" fill="#505050" shape-rendering="crispEdges"/>
<rect x="269" y="17" width="1" height="3" fill="#505050" shape-rendering="crispEdges"/>
<rect x="257" y="9" width="1" height="1" fill="#b4b4b4" shape-rendering="crispEdges"/>
<rect x="261" y="9" width="1" height="1" fill="#b4b4b4" shape-rendering="crispEdges"/>
<rect x="268" y="16" width="1" height="1" fill="#b4b4b4" shape-rendering="crispEdges"/>
<rect x="268" y="20" width="1" height="1" fill="#b4b4b4" shape-rendering="crispEdges"/>
<rect x="287" y="7" width="1" height="14" fill="#505050" shape-rendering="crispEdges"/>
<rect x="285" y="18" width="14" height="1" fill="#505050" shape-rendering="crispEdges"/>
<rect x="286" y="8" width="3" height="1" fill="#505050" shape-rendering="crispEdges"/>
<rect x="297" y="17" width="1" height="3" fill="#505050" shape-rendering="crispEdges"/>
<rect x="285" y="9" width="1" height="1" fill="#b4b4b4" shape-rendering="crispEdges"/>
<rect x="289" y="9" width="1" height="1" fill="#b4b4b4" shape-rendering="crispEdges"/>
<rect x="296" y="16" width="1" height="1" fill="#b4b4b4" shape-rendering="crispEdges"/>
<rect x="296" y="20" width="1" height="1" fill="#b4b4b4" shape-rendering="crispEdges"/>
<rect x="315" y="7" width="1" height="14" fill="#505050" shape-rendering="crispEdges"/>
<rect x="313" y="18" width="14" height="1" fill="#505050" shape-rendering="crispEdges"/>
<rect x="314" y="8" width="3" height="1" fill="#505050" shape-rendering="crispEdges"/>
<rect x="325" y="17" width="1" height="3" fill="#505050" shape-rendering="crispEdges"/>
<rect x="313" y="9" width="1" height="1" fill="#b4b4b4" shape-rendering="crispEdges"/>
<rect x="317" y="9" width="1" height="1" fill="#b4b4b4" shape-rendering="crispEdges"/>
<rect x="324" y="16" width="1" height="1" fill="#b4b4b4" shape-rendering="crispEdges"/>
<rect x="324" y="20" width="1" height="1" fill="#b4b4b4" shape-rendering="crispEdges"/>
<rect x="439" y="7" width="1" height="14" fill="#505050" shape-rendering="crispEdges"/>
<rect x="437" y="18" width="14" height="1" fill="#505050" shape-rendering="crispEdges"/>
<rect x="438" y="8" width="3" height="1" fill="#505050" shape-rendering="crispEdges"/>
<rect x="449" y="17" width="1" height="3" fill="#505050" shape-rendering="crispEdges"/>
<rect x="437" y="9" width="1" height="1" fill="#b4b4b4" shape-rendering="crispEdges"/>
<rect x="441" y="9" width="1" height="1" fill="#b4b4b4" shape-rendering="crispEdges"/>
<rect x="448" y="16" width="1" height="1" fill="#b4b4b4" shape-rendering="crispEdges"/>
<rect x="448" y="20" width="1" height="1" fill="#b4b4b4" shape-rendering="crispEdges"/>
<rect x="467" y="7" width="1" height="14" fill="#505050" shape-rendering="crispEdges"/>
<rect x="465" y="18" width="14" height="1" fill="#505050" shape-rendering="crispEdges"/>
<rect x="466" y="8" width="3" height="1" fill="#505050" shape-rendering="crispEdges"/>
<rect x="477" y="17" width="1" height="3" fill="#505050" shape-rendering="crispEdges"/>
<rect x="465" y="9" width="1" height="1" fill="#b4b4b4" shape-rendering="crispEdges"/>
<rect x="469" y="9" width="1" height="1" fill="#b4b4b4" shape-rendering="crispEdges"/>
<rect x="476" y="16" width="1" height="1" fill="#b4b4b4" shape-rendering="crispEdges"/>
<rect x="476" y="20" width="1" height="1" fill="#b4b4b4" shape-rendering="crispEdges"/>
<g shape-rendering="geometricPrecision">
<path d="M265.6,8 V17 M263,15.5 H265.6 M265.6,9.5 H268" stroke="#0a8a0a" stroke-width="1.25" fill="none"/>
<path d="M293.5,5 V16.8" stroke="#00a000" stroke-width="1.4"/><rect x="291.5" y="7.5" width="4" height="7" fill="url(#gCandle)" stroke="#00a000" stroke-width="1"/>
<path d="M314,15.8 C317,14 318,10.2 320.5,10.2 C323,10.2 323.5,13.5 326.5,14.2" stroke="#2e9a2e" stroke-width="1.3" fill="none"/>
<path d="M355.2,15.2 L360.2,20.4" stroke="#c8a018" stroke-width="3.2" stroke-linecap="butt"/>
<path d="M355.6,14.6 L360.8,19.8" stroke="#f0dc70" stroke-width="1" />
<circle cx="351" cy="10.9" r="5.7" fill="url(#gLens)" stroke="#2e7ac8" stroke-width="1.2"/>
<rect x="347.8" y="9.9" width="6.4" height="2" fill="#3a88b8"/>
<rect x="350" y="7.7" width="2" height="6.4" fill="#3a88b8"/>
<path d="M383.2,15.2 L388.2,20.4" stroke="#c8a018" stroke-width="3.2" stroke-linecap="butt"/>
<path d="M383.6,14.6 L388.8,19.8" stroke="#f0dc70" stroke-width="1" />
<circle cx="379" cy="10.9" r="5.7" fill="url(#gLens)" stroke="#2e7ac8" stroke-width="1.2"/>
<rect x="375.8" y="9.9" width="6.4" height="2" fill="#3a88b8"/>
<rect x="401" y="5" width="8" height="8" fill="url(#gGrn)"/>
<path d="M402.2,8 h5.6 v4 h-1.2 v-1 h-3.2 v1 h-1.2 z" fill="#fff"/><rect x="403.2" y="9" width="3.6" height="0.9" fill="#a8e090"/><rect x="402.2" y="6" width="1" height="1" fill="#e0f0ff"/>
<rect x="409" y="5" width="8" height="8" fill="url(#gBl2)"/>
<path d="M410.2,8 h5.6 v4 h-1.2 v-1 h-3.2 v1 h-1.2 z" fill="#fff"/><rect x="411.2" y="9" width="3.6" height="0.9" fill="#a0b8f8"/><rect x="410.2" y="6" width="1" height="1" fill="#e0f0ff"/>
<rect x="401" y="13" width="8" height="8" fill="url(#gBl2)"/>
<path d="M402.2,16 h5.6 v4 h-1.2 v-1 h-3.2 v1 h-1.2 z" fill="#fff"/><rect x="403.2" y="17" width="3.6" height="0.9" fill="#a0b8f8"/><rect x="402.2" y="14" width="1" height="1" fill="#e0f0ff"/>
<rect x="409" y="13" width="8" height="8" fill="url(#gGrn)"/>
<path d="M410.2,16 h5.6 v4 h-1.2 v-1 h-3.2 v1 h-1.2 z" fill="#fff"/><rect x="411.2" y="17" width="3.6" height="0.9" fill="#a8e090"/><rect x="410.2" y="14" width="1" height="1" fill="#e0f0ff"/>
<path d="M444.5,9.3 L448.3,12.6 L444.5,15.9 Z" fill="#70e870" stroke="#00a000" stroke-width="1" stroke-linejoin="round"/>
<path d="M473.6,7 V16.8" stroke="#1870a8" stroke-width="1.3"/>
<path d="M474.6,12.5 L477.6,10 L477,12 L479.2,12 L479.2,13 L477,13 L477.6,15 Z" fill="#e05000" stroke="#e05000" stroke-width="0.5"/>
<path d="M500.0,5.5 h6 l3.5,3.5 v8 a1.5,1.5 0 0 1 -1.5,1.5 h-8 a1.5,1.5 0 0 1 -1.5,-1.5 v-10 a1.5,1.5 0 0 1 1.5,-1.5 z" fill="#fff" stroke="#787878" stroke-width="1"/>
<path d="M506.0,5.5 v3.5 h3.5" fill="none" stroke="#787878" stroke-width="1"/>
<path d="M503.5,8.5 q-2,0 -2,2 v5 M500.5,11.8 h3" stroke="#605848" stroke-width="0.9" fill="none"/>
<path d="M506.4,11.4 h3.2 v4 h4 v3.2 h-4 v4 h-3.2 v-4 h-4 v-3.2 h4 z" fill="url(#gPlus)" stroke="#009000" stroke-width="0.8" stroke-linejoin="round"/>
<circle cx="543.9" cy="12.8" r="6.8" fill="#f6f6f6" stroke="url(#gClock)" stroke-width="2.6"/>
<path d="M543.3,9 V13.2 H546.2" stroke="#202020" stroke-width="1" fill="none"/>
<circle cx="543.9" cy="12.8" r="4.4" fill="none" stroke="#b0b0b0" stroke-width="0.9" stroke-dasharray="0.7 1.7"/>
<rect x="575.5" y="6.5" width="15" height="13" fill="#fff" stroke="#3470c0" stroke-width="1"/><rect x="575" y="6" width="16" height="2.6" fill="url(#gClock)"/><rect x="576" y="14" width="14" height="1" fill="#3470c0" shape-rendering="crispEdges"/>
<path d="M577.5,12.4 h2 l1.6,-1.4 h1.4 l1.4,-1 h1.2 l1,1 h1.4 l1.2,-1" stroke="#8b1a00" stroke-width="1.25" fill="none"/>
<path d="M578,17.8 h1.6 l1.2,-0.8 h1.2 l1,0.8 h1 l2,-2 l1.2,0.4 l1.6,1.8" stroke="#0a8a0a" stroke-width="1.2" fill="none"/>
<path d="M519.5,12 h6 l-3,3.2 z" fill="#000"/>
<path d="M558.5,12 h6 l-3,3.2 z" fill="#000"/>
<path d="M597.5,12 h6 l-3,3.2 z" fill="#000"/>
<path d="M903.5,12 h6 l-3,3.2 z" fill="#000"/>
<path d="M627,6 L627,18 L629.8,15.4 L632,20.2 L634,19.3 L631.8,14.6 L635.6,14.6 Z" fill="#505050"/>
</g>
<rect x="659" y="7" width="1" height="5" fill="#505050" shape-rendering="crispEdges"/>
<rect x="659" y="14" width="1" height="6" fill="#505050" shape-rendering="crispEdges"/>
<rect x="652" y="13" width="6" height="1" fill="#505050" shape-rendering="crispEdges"/>
<rect x="661" y="13" width="6" height="1" fill="#505050" shape-rendering="crispEdges"/>
<rect x="659" y="13" width="1" height="1" fill="#909090" shape-rendering="crispEdges"/>
<rect x="693" y="7" width="1" height="13" fill="#505050" shape-rendering="crispEdges"/>
<rect x="716" y="13" width="12" height="1" fill="#505050" shape-rendering="crispEdges"/>
<g shape-rendering="geometricPrecision">
<path d="M743.7,20 L756.2,7.8" stroke="#505050" stroke-width="1.2"/>
<path d="M770,14.5 L778.5,6.8 M770.5,18.8 L783.8,7.2 M775,20 L784,11.5 M772.5,19 L773.5,12 M776,16.5 L777,9.5 M780,13.5 L781.5,5" stroke="#505050" stroke-width="1" fill="none"/>
<text x="781" y="22" font-size="7" font-weight="bold" fill="#404040">E</text>
<rect x="799" y="6" width="1" height="1" fill="#505050" shape-rendering="crispEdges"/>
<rect x="801" y="6" width="1" height="1" fill="#505050" shape-rendering="crispEdges"/>
<rect x="803" y="6" width="1" height="1" fill="#505050" shape-rendering="crispEdges"/>
<rect x="805" y="6" width="1" height="1" fill="#505050" shape-rendering="crispEdges"/>
<rect x="807" y="6" width="1" height="1" fill="#505050" shape-rendering="crispEdges"/>
<rect x="809" y="6" width="1" height="1" fill="#505050" shape-rendering="crispEdges"/>
<rect x="811" y="6" width="1" height="1" fill="#505050" shape-rendering="crispEdges"/>
<rect x="799" y="9" width="1" height="1" fill="#505050" shape-rendering="crispEdges"/>
<rect x="801" y="9" width="1" height="1" fill="#505050" shape-rendering="crispEdges"/>
<rect x="803" y="9" width="1" height="1" fill="#505050" shape-rendering="crispEdges"/>
<rect x="805" y="9" width="1" height="1" fill="#505050" shape-rendering="crispEdges"/>
<rect x="807" y="9" width="1" height="1" fill="#505050" shape-rendering="crispEdges"/>
<rect x="809" y="9" width="1" height="1" fill="#505050" shape-rendering="crispEdges"/>
<rect x="811" y="9" width="1" height="1" fill="#505050" shape-rendering="crispEdges"/>
<rect x="799" y="13" width="1" height="1" fill="#505050" shape-rendering="crispEdges"/>
<rect x="801" y="13" width="1" height="1" fill="#505050" shape-rendering="crispEdges"/>
<rect x="803" y="13" width="1" height="1" fill="#505050" shape-rendering="crispEdges"/>
<rect x="805" y="13" width="1" height="1" fill="#505050" shape-rendering="crispEdges"/>
<rect x="807" y="13" width="1" height="1" fill="#505050" shape-rendering="crispEdges"/>
<rect x="809" y="13" width="1" height="1" fill="#505050" shape-rendering="crispEdges"/>
<rect x="811" y="13" width="1" height="1" fill="#505050" shape-rendering="crispEdges"/>
<rect x="799" y="17" width="1" height="1" fill="#505050" shape-rendering="crispEdges"/>
<rect x="801" y="17" width="1" height="1" fill="#505050" shape-rendering="crispEdges"/>
<rect x="803" y="17" width="1" height="1" fill="#505050" shape-rendering="crispEdges"/>
<rect x="805" y="17" width="1" height="1" fill="#505050" shape-rendering="crispEdges"/>
<rect x="807" y="17" width="1" height="1" fill="#505050" shape-rendering="crispEdges"/>
<text x="808.6" y="22" font-size="7" font-weight="bold" fill="#404040">F</text>
<text x="833.6" y="18" font-size="12.4" fill="#505050" stroke="#505050" stroke-width="0.5" text-anchor="middle">A</text>
<rect x="856" y="7" width="1" height="1" fill="#505050" shape-rendering="crispEdges"/>
<rect x="856" y="19" width="1" height="1" fill="#505050" shape-rendering="crispEdges"/>
<rect x="858" y="7" width="1" height="1" fill="#505050" shape-rendering="crispEdges"/>
<rect x="858" y="19" width="1" height="1" fill="#505050" shape-rendering="crispEdges"/>
<rect x="860" y="7" width="1" height="1" fill="#505050" shape-rendering="crispEdges"/>
<rect x="860" y="19" width="1" height="1" fill="#505050" shape-rendering="crispEdges"/>
<rect x="862" y="7" width="1" height="1" fill="#505050" shape-rendering="crispEdges"/>
<rect x="862" y="19" width="1" height="1" fill="#505050" shape-rendering="crispEdges"/>
<rect x="864" y="7" width="1" height="1" fill="#505050" shape-rendering="crispEdges"/>
<rect x="864" y="19" width="1" height="1" fill="#505050" shape-rendering="crispEdges"/>
<rect x="866" y="7" width="1" height="1" fill="#505050" shape-rendering="crispEdges"/>
<rect x="866" y="19" width="1" height="1" fill="#505050" shape-rendering="crispEdges"/>
<rect x="856" y="7" width="1" height="1" fill="#505050" shape-rendering="crispEdges"/>
<rect x="867" y="7" width="1" height="1" fill="#505050" shape-rendering="crispEdges"/>
<rect x="856" y="9" width="1" height="1" fill="#505050" shape-rendering="crispEdges"/>
<rect x="867" y="9" width="1" height="1" fill="#505050" shape-rendering="crispEdges"/>
<rect x="856" y="11" width="1" height="1" fill="#505050" shape-rendering="crispEdges"/>
<rect x="867" y="11" width="1" height="1" fill="#505050" shape-rendering="crispEdges"/>
<rect x="856" y="13" width="1" height="1" fill="#505050" shape-rendering="crispEdges"/>
<rect x="867" y="13" width="1" height="1" fill="#505050" shape-rendering="crispEdges"/>
<rect x="856" y="15" width="1" height="1" fill="#505050" shape-rendering="crispEdges"/>
<rect x="867" y="15" width="1" height="1" fill="#505050" shape-rendering="crispEdges"/>
<rect x="856" y="17" width="1" height="1" fill="#505050" shape-rendering="crispEdges"/>
<rect x="867" y="17" width="1" height="1" fill="#505050" shape-rendering="crispEdges"/>
<rect x="856" y="19" width="1" height="1" fill="#505050" shape-rendering="crispEdges"/>
<rect x="867" y="19" width="1" height="1" fill="#505050" shape-rendering="crispEdges"/>
<rect x="855" y="6" width="2" height="1" fill="#505050" shape-rendering="crispEdges"/>
<text x="862" y="18" font-size="12" fill="#505050" stroke="#505050" stroke-width="0.5" text-anchor="middle">T</text>
<path d="M886.5,7 L889.8,10.6 L883.2,10.6 Z M893.5,20 L890.2,16.4 L896.8,16.4 Z" fill="#505050"/>
<path d="M884.6,13.2 L887,15.8 L892.6,10.4" stroke="#505050" stroke-width="1.5" fill="none"/>
<path d="M886.5,7.2 L890,9.2 L886.5,11.2 L883,9.2 Z M893.5,15.6 L897,17.6 L893.5,19.8 L890,17.6 Z" fill="#505050"/>
<circle cx="1646.3" cy="10" r="3.6" fill="#f4f8ff" stroke="#2858c8" stroke-width="1.6"/><path d="M1643.6,12.8 L1638.8,17.8" stroke="#2858c8" stroke-width="2.2" stroke-linecap="round"/>
<path d="M1663.6,15.2 a5,4.6 0 0 1 5,-4.8 h3 a5,4.6 0 0 1 0,9.4 h-2.4 l-3.2,2.4 l0.6,-2.9 a5,4.6 0 0 1 -3,-4.1 z" fill="#e6e6f2" stroke="#b4b4b8" stroke-width="0.9"/>
<path d="M1664.6,14 a4.2,3.4 0 0 1 8,0 z" fill="#f8f8fc"/>
<circle cx="1677.4" cy="10.4" r="8.4" fill="url(#gBadge)"/>
<text x="1676.6" y="15" font-size="12.5" fill="#fff" stroke="#fff" stroke-width="0.35" text-anchor="middle" style="font-family:'DejaVu Sans','Liberation Sans',sans-serif">1</text>
</g>
<g shape-rendering="geometricPrecision">
<text x="33.7" y="16.3" font-size="12.1" fill="#000" style="font-family:'Liberation Sans','Noto Sans CJK SC',sans-serif" stroke="#000" stroke-width="0.08">新订单</text>
<text x="186.8" y="16.3" font-size="12.1" fill="#000" style="font-family:'Liberation Sans','Noto Sans CJK SC',sans-serif" stroke="#000" stroke-width="0.08">自动交易</text>
<text x="937" y="17" font-size="9.7" fill="#3a3a3a" stroke="#3a3a3a" stroke-width="0.15" text-anchor="middle">M1</text>
<text x="965" y="17" font-size="9.7" fill="#3a3a3a" stroke="#3a3a3a" stroke-width="0.15" text-anchor="middle">M5</text>
<text x="993" y="17" font-size="9.7" fill="#3a3a3a" stroke="#3a3a3a" stroke-width="0.15" text-anchor="middle">M15</text>
<text x="1021" y="17" font-size="9.7" fill="#3a3a3a" stroke="#3a3a3a" stroke-width="0.15" text-anchor="middle">M30</text>
<text x="1049" y="17" font-size="9.7" fill="#3a3a3a" stroke="#3a3a3a" stroke-width="0.15" text-anchor="middle">H1</text>
<text x="1077" y="17" font-size="9.7" fill="#3a3a3a" stroke="#3a3a3a" stroke-width="0.15" text-anchor="middle">H4</text>
<text x="1105" y="17" font-size="9.7" fill="#3a3a3a" stroke="#3a3a3a" stroke-width="0.15" text-anchor="middle">D1</text>
<text x="1133" y="17" font-size="9.7" fill="#3a3a3a" stroke="#3a3a3a" stroke-width="0.15" text-anchor="middle">W1</text>
<text x="1161" y="17" font-size="9.7" fill="#3a3a3a" stroke="#3a3a3a" stroke-width="0.15" text-anchor="middle">MN</text>
</g>
</svg>
</body></html>
